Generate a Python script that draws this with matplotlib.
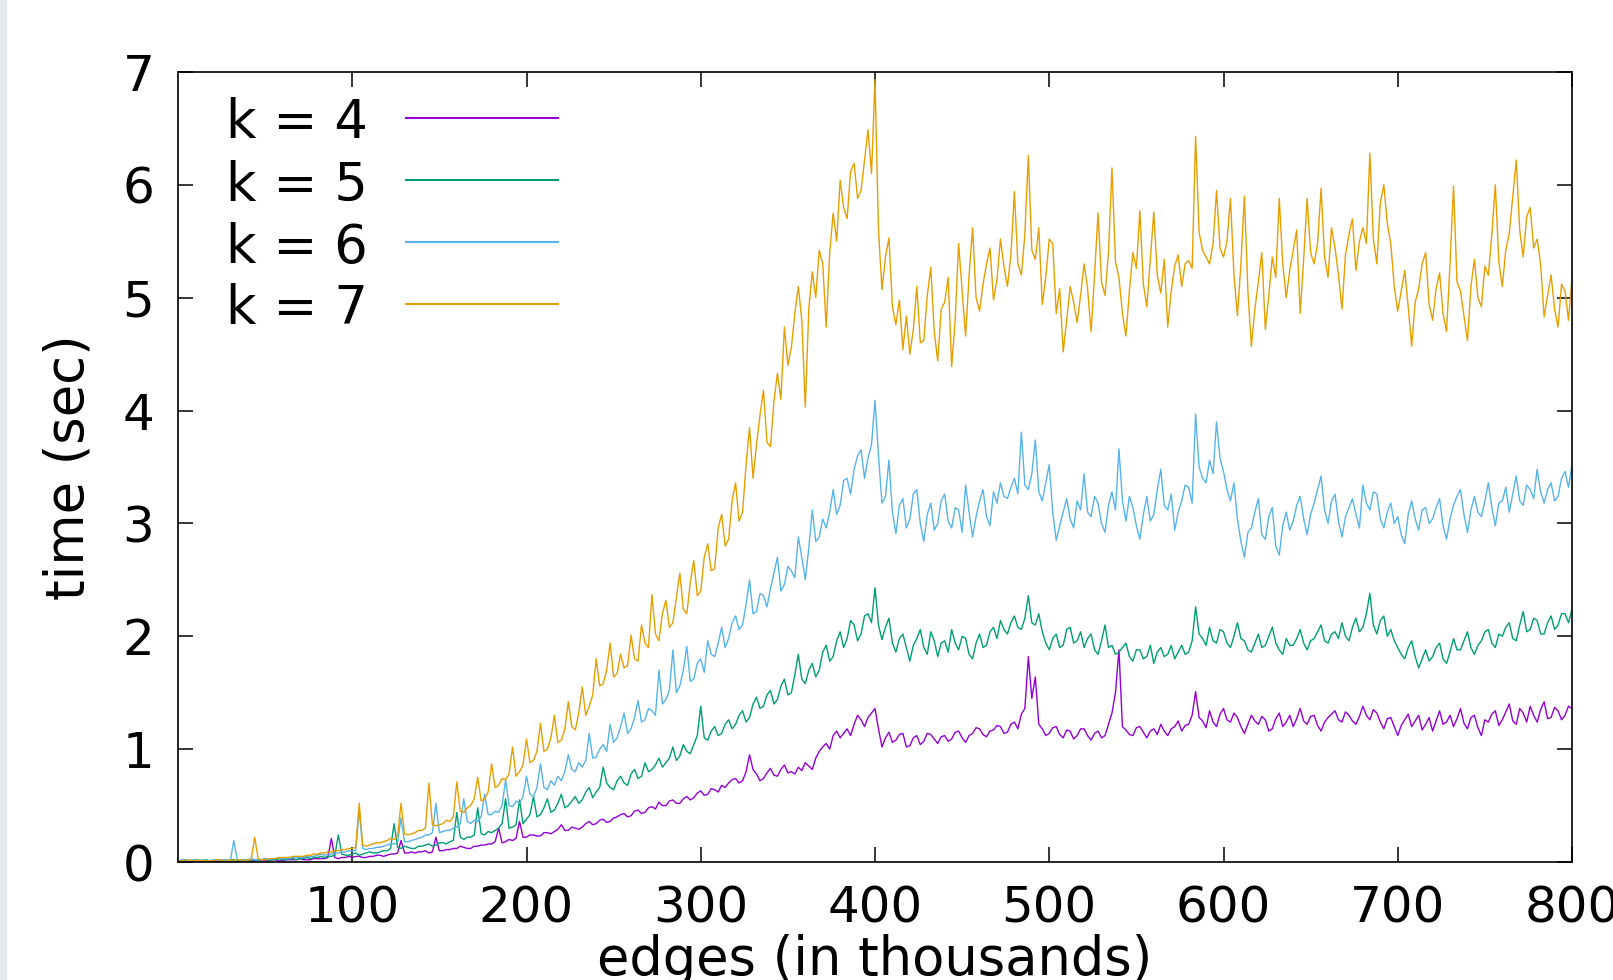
import numpy as np
import matplotlib
matplotlib.use("Agg")
import matplotlib.pyplot as plt
from matplotlib.lines import Line2D
from matplotlib.patches import Rectangle

# edges in thousands, one sample every 2k
edges = np.arange(0, 801, 2)

k4 = [
    0.00, 0.01, 0.00, 0.00, 0.01, 0.00, 0.00, 0.01, 0.01, 0.00, 0.01, 0.01, 0.00, 0.01, 0.01, 0.00, 0.01, 0.01, 0.01, 0.01,
    0.01, 0.01, 0.01, 0.02, 0.01, 0.01, 0.01, 0.02, 0.02, 0.01, 0.01, 0.02, 0.02, 0.02, 0.02, 0.03, 0.02, 0.02, 0.02, 0.03,
    0.03, 0.03, 0.03, 0.04, 0.21, 0.04, 0.03, 0.04, 0.04, 0.05, 0.04, 0.05, 0.05, 0.04, 0.04, 0.05, 0.05, 0.06, 0.06, 0.05,
    0.06, 0.07, 0.07, 0.08, 0.19, 0.08, 0.08, 0.09, 0.08, 0.09, 0.09, 0.10, 0.08, 0.09, 0.22, 0.10, 0.10, 0.11, 0.11, 0.12,
    0.12, 0.14, 0.13, 0.12, 0.12, 0.14, 0.14, 0.15, 0.15, 0.16, 0.16, 0.18, 0.30, 0.17, 0.18, 0.20, 0.19, 0.21, 0.36, 0.22,
    0.22, 0.24, 0.24, 0.23, 0.23, 0.26, 0.26, 0.25, 0.27, 0.29, 0.33, 0.28, 0.28, 0.31, 0.30, 0.29, 0.31, 0.34, 0.36, 0.33,
    0.34, 0.37, 0.38, 0.35, 0.36, 0.39, 0.40, 0.42, 0.43, 0.40, 0.41, 0.45, 0.46, 0.43, 0.44, 0.48, 0.49, 0.47, 0.53, 0.50,
    0.50, 0.54, 0.55, 0.52, 0.52, 0.56, 0.58, 0.55, 0.57, 0.61, 0.63, 0.59, 0.60, 0.65, 0.64, 0.62, 0.68, 0.66, 0.70, 0.73,
    0.74, 0.70, 0.72, 0.80, 0.95, 0.82, 0.78, 0.72, 0.74, 0.79, 0.83, 0.77, 0.76, 0.82, 0.86, 0.79, 0.80, 0.78, 0.84, 0.81,
    0.88, 0.85, 0.82, 0.92, 0.98, 1.02, 1.05, 1.00, 1.12, 1.16, 1.10, 1.14, 1.18, 1.12, 1.22, 1.30, 1.26, 1.20, 1.28, 1.32,
    1.36, 1.18, 1.02, 1.10, 1.15, 1.06, 1.08, 1.13, 1.14, 1.02, 1.03, 1.10, 1.12, 1.04, 1.07, 1.14, 1.13, 1.09, 1.05, 1.11,
    1.12, 1.07, 1.09, 1.15, 1.16, 1.10, 1.06, 1.12, 1.14, 1.19, 1.18, 1.13, 1.11, 1.16, 1.17, 1.21, 1.20, 1.14, 1.15, 1.22,
    1.24, 1.18, 1.31, 1.36, 1.82, 1.45, 1.64, 1.22, 1.18, 1.12, 1.14, 1.19, 1.20, 1.13, 1.10, 1.17, 1.16, 1.09, 1.12, 1.18,
    1.18, 1.12, 1.08, 1.14, 1.16, 1.10, 1.12, 1.22, 1.32, 1.50, 1.88, 1.20, 1.17, 1.13, 1.12, 1.19, 1.20, 1.15, 1.10, 1.16,
    1.18, 1.13, 1.22, 1.16, 1.12, 1.18, 1.20, 1.25, 1.16, 1.21, 1.22, 1.30, 1.51, 1.28, 1.25, 1.19, 1.34, 1.24, 1.20, 1.31,
    1.36, 1.26, 1.24, 1.32, 1.28, 1.20, 1.14, 1.22, 1.30, 1.25, 1.22, 1.29, 1.26, 1.16, 1.18, 1.27, 1.32, 1.20, 1.24, 1.30,
    1.20, 1.27, 1.36, 1.25, 1.22, 1.29, 1.30, 1.21, 1.16, 1.24, 1.28, 1.31, 1.34, 1.26, 1.24, 1.33, 1.30, 1.25, 1.22, 1.29,
    1.38, 1.30, 1.26, 1.35, 1.32, 1.24, 1.18, 1.27, 1.28, 1.20, 1.12, 1.21, 1.26, 1.31, 1.20, 1.25, 1.30, 1.17, 1.22, 1.28,
    1.16, 1.25, 1.34, 1.22, 1.24, 1.30, 1.20, 1.27, 1.36, 1.23, 1.18, 1.28, 1.30, 1.19, 1.12, 1.26, 1.24, 1.31, 1.34, 1.21,
    1.26, 1.33, 1.40, 1.25, 1.22, 1.36, 1.32, 1.24, 1.38, 1.30, 1.24, 1.35, 1.42, 1.27, 1.28, 1.37, 1.34, 1.26, 1.30, 1.38,
    1.36,
]

k5 = [
    0.01, 0.01, 0.02, 0.01, 0.01, 0.02, 0.01, 0.01, 0.02, 0.01, 0.01, 0.02, 0.02, 0.01, 0.01, 0.02, 0.02, 0.01, 0.01, 0.02,
    0.01, 0.02, 0.02, 0.01, 0.02, 0.03, 0.01, 0.02, 0.02, 0.03, 0.02, 0.02, 0.03, 0.03, 0.02, 0.03, 0.03, 0.04, 0.03, 0.04,
    0.04, 0.05, 0.04, 0.05, 0.05, 0.06, 0.24, 0.07, 0.06, 0.06, 0.07, 0.08, 0.06, 0.07, 0.08, 0.09, 0.08, 0.08, 0.09, 0.10,
    0.10, 0.12, 0.34, 0.13, 0.12, 0.14, 0.13, 0.12, 0.12, 0.14, 0.14, 0.15, 0.16, 0.14, 0.15, 0.17, 0.17, 0.16, 0.18, 0.19,
    0.44, 0.22, 0.20, 0.22, 0.22, 0.24, 0.48, 0.25, 0.24, 0.27, 0.26, 0.28, 0.30, 0.34, 0.56, 0.30, 0.31, 0.33, 0.55, 0.34,
    0.38, 0.42, 0.58, 0.40, 0.42, 0.48, 0.56, 0.44, 0.46, 0.52, 0.60, 0.48, 0.50, 0.54, 0.58, 0.52, 0.55, 0.62, 0.66, 0.57,
    0.62, 0.66, 0.84, 0.70, 0.66, 0.64, 0.72, 0.76, 0.70, 0.68, 0.78, 0.82, 0.74, 0.76, 0.88, 0.80, 0.82, 0.86, 0.92, 0.84,
    0.88, 0.92, 1.02, 0.90, 0.94, 1.04, 0.98, 0.96, 1.04, 1.12, 1.38, 1.10, 1.08, 1.16, 1.20, 1.12, 1.14, 1.22, 1.26, 1.18,
    1.22, 1.30, 1.34, 1.24, 1.28, 1.40, 1.46, 1.36, 1.38, 1.48, 1.52, 1.40, 1.44, 1.56, 1.62, 1.48, 1.50, 1.66, 1.84, 1.62,
    1.58, 1.70, 1.76, 1.64, 1.70, 1.86, 1.92, 1.78, 1.82, 1.96, 2.04, 1.90, 1.98, 2.14, 2.10, 1.96, 2.02, 2.18, 2.20, 2.12,
    2.43, 2.10, 1.97, 2.08, 2.16, 1.94, 1.86, 1.98, 2.02, 1.90, 1.78, 1.92, 1.98, 2.06, 1.90, 1.84, 2.04, 1.96, 1.82, 1.94,
    1.96, 1.86, 2.06, 1.94, 1.88, 2.00, 1.98, 1.84, 1.80, 1.94, 2.02, 1.90, 1.92, 2.04, 2.08, 1.98, 2.14, 2.06, 2.02, 2.12,
    2.18, 2.08, 2.06, 2.16, 2.36, 2.12, 2.10, 2.20, 2.04, 1.94, 1.88, 1.98, 2.02, 1.90, 1.92, 2.06, 2.08, 1.94, 1.96, 2.04,
    1.90, 1.98, 2.02, 1.88, 1.84, 1.96, 2.10, 1.90, 1.92, 1.84, 1.86, 1.90, 1.94, 1.82, 1.78, 1.88, 1.88, 1.80, 1.82, 1.92,
    1.76, 1.86, 1.90, 1.82, 1.84, 1.92, 1.80, 1.86, 1.92, 1.84, 1.86, 1.96, 2.26, 2.02, 1.98, 1.92, 2.08, 1.96, 1.94, 2.06,
    2.04, 1.94, 1.90, 2.00, 2.12, 1.98, 1.96, 1.88, 1.86, 1.94, 2.02, 1.90, 1.92, 2.00, 2.08, 1.94, 1.88, 1.84, 1.98, 1.92,
    1.92, 1.98, 2.06, 1.94, 1.88, 1.96, 1.98, 2.04, 2.10, 1.96, 1.94, 2.02, 2.04, 1.98, 2.12, 2.00, 1.96, 2.08, 2.16, 2.04,
    2.08, 2.20, 2.38, 2.10, 2.02, 2.14, 2.18, 2.00, 2.06, 1.96, 1.90, 1.84, 1.80, 1.90, 1.96, 1.82, 1.72, 1.80, 1.88, 1.78,
    1.82, 1.90, 1.94, 1.80, 1.76, 1.86, 1.98, 1.88, 1.88, 1.96, 2.04, 1.90, 1.84, 1.92, 1.96, 2.04, 2.06, 1.94, 1.90, 2.02,
    2.00, 2.08, 2.12, 1.98, 1.96, 2.10, 2.22, 2.04, 2.06, 2.16, 2.14, 2.02, 2.02, 2.12, 2.18, 2.06, 2.10, 2.20, 2.20, 2.12,
    2.24,
]

k6 = [
    0.01, 0.02, 0.01, 0.01, 0.02, 0.01, 0.01, 0.02, 0.01, 0.01, 0.02, 0.02, 0.01, 0.02, 0.02, 0.01, 0.19, 0.02, 0.02, 0.02,
    0.02, 0.03, 0.02, 0.02, 0.02, 0.03, 0.02, 0.03, 0.03, 0.04, 0.03, 0.03, 0.03, 0.04, 0.04, 0.04, 0.04, 0.05, 0.05, 0.05,
    0.06, 0.07, 0.06, 0.07, 0.07, 0.08, 0.08, 0.09, 0.09, 0.10, 0.10, 0.10, 0.46, 0.12, 0.11, 0.12, 0.12, 0.13, 0.13, 0.14,
    0.15, 0.16, 0.16, 0.17, 0.39, 0.18, 0.18, 0.19, 0.20, 0.21, 0.22, 0.24, 0.24, 0.26, 0.52, 0.26, 0.27, 0.28, 0.28, 0.30,
    0.31, 0.34, 0.56, 0.36, 0.34, 0.37, 0.36, 0.40, 0.60, 0.42, 0.42, 0.45, 0.44, 0.50, 0.73, 0.50, 0.49, 0.54, 0.52, 0.58,
    0.76, 0.60, 0.58, 0.66, 0.87, 0.66, 0.64, 0.72, 0.68, 0.76, 0.72, 0.80, 0.95, 0.82, 0.80, 0.88, 0.84, 0.90, 1.14, 0.92,
    0.93, 1.00, 1.04, 0.98, 1.22, 1.06, 1.10, 1.20, 1.32, 1.14, 1.18, 1.28, 1.43, 1.24, 1.26, 1.36, 1.34, 1.30, 1.70, 1.40,
    1.44, 1.52, 1.88, 1.50, 1.56, 1.70, 1.91, 1.60, 1.62, 1.76, 1.80, 1.68, 1.96, 1.84, 1.82, 1.94, 2.08, 1.90, 1.98, 2.12,
    2.18, 2.06, 2.10, 2.28, 2.50, 2.20, 2.22, 2.38, 2.36, 2.26, 2.42, 2.56, 2.70, 2.40, 2.46, 2.62, 2.58, 2.52, 2.88, 2.70,
    2.50, 2.78, 3.12, 2.84, 2.88, 3.04, 2.96, 3.10, 3.30, 3.08, 3.16, 3.38, 3.40, 3.26, 3.48, 3.60, 3.65, 3.40, 3.58, 3.70,
    4.09, 3.60, 3.18, 3.24, 3.56, 3.10, 2.91, 3.16, 3.22, 2.96, 3.04, 3.26, 3.30, 3.00, 2.84, 3.08, 3.18, 2.94, 3.00, 3.20,
    3.26, 3.02, 2.96, 3.14, 3.12, 2.92, 3.34, 3.10, 2.88, 3.06, 3.20, 3.30, 3.06, 2.98, 3.28, 3.18, 3.36, 3.24, 3.22, 3.32,
    3.40, 3.26, 3.81, 3.34, 3.30, 3.44, 3.74, 3.28, 3.20, 3.36, 3.52, 3.10, 2.85, 2.98, 3.10, 3.22, 3.04, 2.96, 3.20, 3.12,
    3.44, 3.10, 3.06, 3.24, 3.18, 3.00, 2.92, 3.16, 3.28, 3.12, 3.66, 3.20, 3.02, 3.24, 3.14, 2.98, 2.86, 3.08, 3.24, 3.02,
    3.08, 3.30, 3.48, 3.16, 3.12, 3.26, 2.94, 3.10, 3.20, 3.34, 3.32, 3.18, 3.97, 3.50, 3.40, 3.36, 3.56, 3.44, 3.90, 3.58,
    3.46, 3.30, 3.20, 3.36, 3.04, 2.84, 2.70, 2.92, 2.96, 3.10, 3.22, 2.90, 2.86, 3.06, 3.14, 2.80, 2.72, 2.98, 3.10, 2.94,
    3.02, 3.16, 3.24, 3.04, 2.90, 3.08, 3.18, 3.30, 3.42, 3.12, 3.00, 3.20, 3.26, 3.02, 2.88, 3.06, 3.14, 3.22, 3.08, 2.96,
    3.34, 3.18, 3.12, 3.28, 3.26, 3.04, 2.96, 3.10, 3.18, 3.00, 3.06, 2.90, 2.82, 3.08, 3.20, 3.04, 2.94, 3.12, 3.14, 3.00,
    3.04, 3.14, 3.22, 2.98, 2.86, 3.04, 3.16, 3.24, 3.30, 3.08, 2.92, 3.12, 3.24, 3.10, 3.06, 3.20, 3.36, 3.14, 2.98, 3.18,
    3.20, 3.32, 3.10, 3.26, 3.42, 3.20, 3.16, 3.34, 3.30, 3.22, 3.48, 3.28, 3.18, 3.30, 3.36, 3.20, 3.24, 3.40, 3.46, 3.32,
    3.52,
]

k7 = [
    0.01, 0.01, 0.01, 0.02, 0.01, 0.01, 0.02, 0.01, 0.01, 0.01, 0.01, 0.02, 0.02, 0.01, 0.01, 0.02, 0.01, 0.02, 0.02, 0.01,
    0.02, 0.02, 0.22, 0.03, 0.02, 0.02, 0.03, 0.03, 0.03, 0.04, 0.04, 0.04, 0.04, 0.05, 0.05, 0.05, 0.05, 0.06, 0.06, 0.07,
    0.07, 0.08, 0.08, 0.09, 0.09, 0.10, 0.10, 0.11, 0.11, 0.12, 0.12, 0.13, 0.52, 0.15, 0.14, 0.15, 0.16, 0.17, 0.17, 0.18,
    0.19, 0.21, 0.20, 0.23, 0.52, 0.25, 0.24, 0.25, 0.26, 0.28, 0.28, 0.30, 0.70, 0.33, 0.32, 0.33, 0.34, 0.37, 0.36, 0.40,
    0.71, 0.45, 0.44, 0.48, 0.50, 0.56, 0.75, 0.54, 0.56, 0.62, 0.87, 0.66, 0.68, 0.74, 0.73, 0.78, 1.02, 0.76, 0.80, 0.86,
    1.09, 0.88, 0.90, 0.98, 1.23, 0.98, 1.00, 1.10, 1.30, 1.06, 1.08, 1.18, 1.42, 1.20, 1.17, 1.32, 1.55, 1.30, 1.38, 1.48,
    1.80, 1.56, 1.58, 1.70, 1.94, 1.64, 1.67, 1.84, 1.72, 1.74, 2.01, 1.80, 1.78, 2.10, 1.94, 1.90, 2.37, 2.02, 1.96, 2.20,
    2.32, 2.08, 2.12, 2.34, 2.56, 2.24, 2.20, 2.48, 2.67, 2.36, 2.40, 2.70, 2.82, 2.58, 2.60, 2.96, 3.08, 2.80, 2.86, 3.20,
    3.36, 3.02, 3.10, 3.52, 3.85, 3.40, 3.70, 3.96, 4.18, 3.72, 3.68, 4.08, 4.33, 4.10, 4.74, 4.40, 4.56, 4.86, 5.10, 4.80,
    4.03, 4.90, 5.23, 5.00, 5.42, 5.30, 4.74, 5.40, 5.75, 5.50, 6.04, 5.80, 5.70, 6.12, 6.19, 5.88, 5.95, 6.22, 6.49, 6.10,
    6.93, 5.60, 5.07, 5.36, 5.53, 4.92, 4.76, 4.98, 4.54, 4.84, 4.50, 4.72, 5.10, 4.60, 4.62, 5.02, 5.27, 4.70, 4.44, 4.90,
    4.96, 5.18, 4.39, 4.80, 5.48, 5.06, 4.66, 5.20, 5.62, 5.00, 4.88, 5.12, 5.30, 5.44, 4.98, 5.16, 5.52, 5.28, 5.10, 5.38,
    5.94, 5.30, 5.20, 5.56, 6.26, 5.42, 5.34, 5.62, 4.94, 5.18, 5.52, 5.48, 4.86, 5.08, 4.52, 4.80, 5.10, 4.96, 4.78, 5.02,
    5.30, 5.08, 4.70, 5.20, 5.75, 5.14, 5.02, 5.40, 6.15, 5.32, 5.18, 4.86, 4.66, 5.06, 5.40, 5.26, 5.77, 5.12, 4.92, 5.34,
    5.76, 5.20, 5.04, 5.34, 4.74, 5.06, 5.28, 5.38, 5.10, 5.30, 5.33, 5.26, 6.43, 5.58, 5.42, 5.36, 5.30, 5.48, 5.95, 5.44,
    5.36, 5.50, 5.88, 5.20, 4.84, 5.30, 5.90, 5.06, 4.57, 4.90, 5.14, 5.40, 4.72, 5.02, 5.36, 5.18, 5.88, 5.30, 5.00, 5.24,
    5.42, 5.60, 4.86, 5.34, 5.88, 5.40, 5.30, 5.48, 5.97, 5.36, 5.18, 5.62, 5.44, 5.20, 4.90, 5.38, 5.56, 5.70, 5.24, 5.50,
    5.62, 5.48, 6.28, 5.52, 5.30, 5.84, 6.00, 5.66, 5.48, 5.10, 4.88, 5.06, 5.24, 4.92, 4.57, 4.96, 5.08, 5.30, 5.40, 4.94,
    4.80, 5.08, 5.22, 4.86, 4.70, 5.30, 5.99, 5.14, 5.06, 4.84, 4.62, 5.10, 5.34, 5.00, 4.92, 5.28, 5.20, 5.56, 6.00, 5.32,
    5.10, 5.42, 5.57, 5.90, 6.22, 5.60, 5.36, 5.72, 5.80, 5.44, 5.52, 5.30, 4.83, 5.02, 5.20, 4.90, 4.74, 5.12, 5.06, 4.80,
    5.17,
]

labels = ["k = 4", "k = 5", "k = 6", "k = 7"]
colors = ["#9400d3", "#009e73", "#56b4e9", "#e69f00"]
series = [k4, k5, k6, k7]

plt.rcParams["font.family"] = "DejaVu Sans"

fig = plt.figure(figsize=(16.13, 9.80), dpi=100)
fig.patches.append(Rectangle((0, 0), 6 / 1613, 1, transform=fig.transFigure,
                             color="#e4e8e9", zorder=0))
ax = fig.add_axes([178 / 1613, 1 - 862 / 980, 1394 / 1613, 790 / 980])

for ys, c in zip(series, colors):
    ax.plot(edges, ys, color=c, linewidth=1.0)

ax.set_xlim(0, 800)
ax.set_ylim(0, 7)
ax.set_xticks(range(100, 801, 100))
ax.set_yticks(range(0, 8))
ax.tick_params(direction="in", length=11, width=1.1, labelsize=36,
               top=True, right=True)
ax.tick_params(axis="y", pad=17)
ax.tick_params(axis="x", pad=16)
for s in ax.spines.values():
    s.set_linewidth(1.2)

ax.set_xlabel("edges (in thousands)", fontsize=38, labelpad=1)
ax.set_ylabel("time (sec)", fontsize=38, labelpad=20)

# key in the upper left corner, text first then sample line
for i, (lab, c) in enumerate(zip(labels, colors)):
    yc = 1 - (118 + 62 * i) / 980
    fig.text(368 / 1613, yc, lab, fontsize=38, ha="right", va="center_baseline")
    fig.add_artist(Line2D([406 / 1613, 558 / 1613], [yc, yc], color=c,
                          linewidth=1.5, transform=fig.transFigure))

fig.savefig("out.png", dpi=100)
